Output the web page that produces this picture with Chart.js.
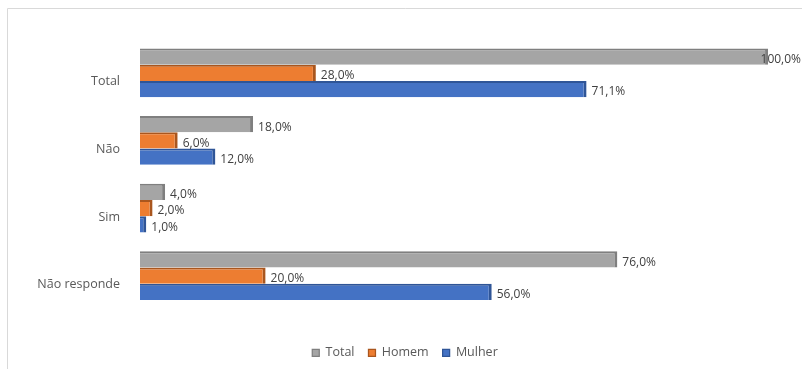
<!DOCTYPE html>
<html>
<head>
<meta charset="utf-8">
<script src="https://cdn.jsdelivr.net/npm/chart.js@4/dist/chart.umd.min.js"></script>
<style>
  html, body { margin: 0; padding: 0; background: #fff; }
  #wrap { width: 802px; height: 369px; position: relative; }
</style>
</head>
<body>
<div id="wrap"><canvas id="c" width="802" height="369"></canvas></div>
<script>
const categories = ["Total", "Não", "Sim", "Não responde"];
const seriesNames = ["Total", "Homem", "Mulher"];
const totalValues = [100.0, 18.0, 4.0, 76.0];
const homemValues = [28.0, 6.0, 2.0, 20.0];
const mulherValues = [71.1, 12.0, 1.0, 56.0];

const fills = ["#A5A5A5", "#ED7D31", "#4472C4"];
const edges = ["#7F7F7F", "#A9561E", "#2F5597"];
const seriesValues = [totalValues, homemValues, mulherValues];

const fmt = v => v.toFixed(1).replace('.', ',') + '%';
const FONT = '"Open Sans", Lato, sans-serif';

const frame = {
  id: 'frame',
  beforeDraw(chart) {
    const ctx = chart.ctx;
    ctx.save();
    ctx.strokeStyle = '#D9D9D9';
    ctx.lineWidth = 1;
    ctx.beginPath();
    ctx.moveTo(7.5, 400);
    ctx.lineTo(7.5, 8.5);
    ctx.lineTo(810, 8.5);
    ctx.stroke();
    ctx.restore();
  }
};

const valueLabels = {
  id: 'valueLabels',
  afterDatasetsDraw(chart) {
    const ctx = chart.ctx;
    ctx.save();
    ctx.font = '12px ' + FONT;
    ctx.fillStyle = '#404040';
    ctx.textBaseline = 'middle';
    ctx.textAlign = 'left';
    chart.data.datasets.forEach((ds, di) => {
      const meta = chart.getDatasetMeta(di);
      meta.data.forEach((el, i) => {
        const txt = fmt(ds.data[i]);
        const w = ctx.measureText(txt).width;
        let x = el.x + 5;
        if (x + w > chart.width - 1) x = chart.width - w - 1;
        ctx.fillText(txt, x, el.y + 3);
      });
    });
    ctx.restore();
  }
};

new Chart(document.getElementById('c'), {
  type: 'bar',
  data: {
    labels: categories,
    datasets: seriesNames.map((n, k) => ({
      label: n,
      data: seriesValues[k],
      backgroundColor: fills[k],
      borderColor: edges[k],
      borderWidth: { top: 2, right: 3, bottom: 0, left: 0 },
      borderSkipped: 'left',
      categoryPercentage: 0.72,
      barPercentage: 1.0
    }))
  },
  options: {
    indexAxis: 'y',
    responsive: false,
    animation: false,
    devicePixelRatio: 1,
    layout: { padding: { left: 8, right: 0, top: 39, bottom: 0 } },
    scales: {
      x: {
        min: 0, max: 105.4,
        display: true,
        grid: { display: false },
        border: { display: false },
        ticks: { display: false },
        afterFit: s => { s.height = 23; }
      },
      y: {
        grid: { display: false },
        border: { display: false },
        ticks: {
          color: '#595959',
          font: { family: FONT, size: 12.5 },
          labelOffset: 9,
          padding: 12
        },
        afterFit: s => { s.width = 132; }
      }
    },
    plugins: {
      legend: {
        position: 'bottom',
        labels: {
          boxWidth: 7, boxHeight: 7,
          color: '#595959',
          font: { family: FONT, size: 12.5 },
          padding: 14
        }
      },
      tooltip: { enabled: false }
    }
  },
  plugins: [frame, valueLabels]
});
</script>
</body>
</html>
